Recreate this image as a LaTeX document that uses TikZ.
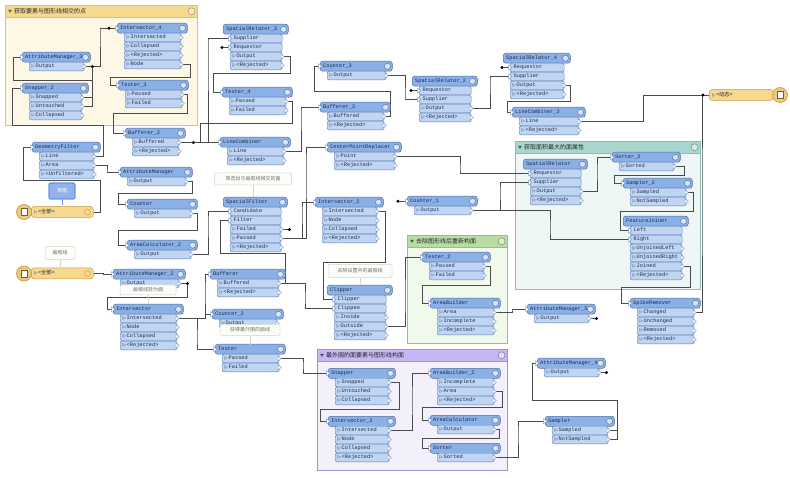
\documentclass[tikz,border=0pt]{standalone}
\usepackage{fontspec}
\setmainfont{Liberation Mono}
\newfontfamily\cjk{Noto Sans CJK SC}
\newfontfamily\djv{DejaVu Sans}
\usetikzlibrary{calc}
\pgfdeclarelayer{bg}
\pgfdeclarelayer{lk}
\pgfsetlayers{bg,lk,main}
\definecolor{cHdr}{HTML}{8BB0E5}
\definecolor{cHdrD}{HTML}{4F6FA8}
\definecolor{cPrt}{HTML}{C0D5F2}
\definecolor{cPrtD}{HTML}{5F7FB8}
\definecolor{cTxt}{HTML}{1A2A4A}
\definecolor{cLnk}{HTML}{4B4B4B}
\definecolor{cIcon}{HTML}{D8E5F7}
\definecolor{cNotD}{HTML}{D5D5CB}
\definecolor{cNotF}{HTML}{FCFCF8}
\definecolor{cNotT}{HTML}{707070}
\definecolor{cRdrD}{HTML}{C49A45}
\definecolor{cRdrF}{HTML}{F8D88E}
\definecolor{cIcr}{HTML}{EDC878}
\definecolor{oh}{HTML}{F5D98F}
\definecolor{ob}{HTML}{FDF7E6}
\definecolor{od}{HTML}{E3BF72}
\definecolor{th}{HTML}{A9D6CE}
\definecolor{tb}{HTML}{EEF7F5}
\definecolor{td}{HTML}{86BDB4}
\definecolor{gh}{HTML}{B9DCA3}
\definecolor{gb}{HTML}{F1F8EC}
\definecolor{gd}{HTML}{95C37C}
\definecolor{ph}{HTML}{C6B6F3}
\definecolor{pb}{HTML}{F3F0FC}
\definecolor{pd}{HTML}{A08FDD}
\definecolor{cBlueD}{HTML}{6D94E0}
\definecolor{cBlueF}{HTML}{93B2EC}
\tikzset{
  hdr/.style={draw=cHdrD, fill=cHdr, rounded corners=2.5pt, minimum height=10pt, inner sep=0pt, line width=0.5pt},
  prt/.style={draw=cPrtD, fill=cPrt, rounded corners=2pt, minimum height=8.6pt, inner sep=0pt, line width=0.45pt},
  ttl/.style={font=\fontsize{5.3}{6}\selectfont, text=cTxt, anchor=west, inner sep=0pt, text height=3.5pt, text depth=0.9pt},
  link/.style={draw=cLnk, line width=0.75pt},
  chev/.style={fill=white, draw=cPrtD, line width=0.3pt},
  cnote/.style={draw=cNotD, fill=cNotF, rounded corners=2pt, line width=0.5pt, inner sep=0pt, font=\cjk\fontsize{5}{6}\selectfont, text=cNotT},
  ctail/.style={draw=cNotD, line width=0.7pt},
  rdr/.style={draw=cRdrD, fill=cRdrF, rounded corners=3pt, minimum height=11pt, inner sep=0pt, line width=0.5pt},
}
\newcommand\tri{{\djv\fontsize{4.2}{5}\selectfont ▷}\hspace{0.8pt}}
\def\eastword{east}
\newcommand\xfbase[6]{%
  \node[hdr, minimum width={(#3-#2)*1pt}, anchor=north west] (#1) at (#2,#4) {};
  \node[ttl] (#1-t) at ([xshift=3pt]#1.west) {#5};
  \draw[draw=cHdrD, fill=cIcon, line width=0.4pt] ([xshift=-5pt]#1.east) circle (3pt);
  \foreach [count=\k] \pa/\pn in {#6} {
    \edef\pcur{\pa}%
    \ifx\pcur\eastword\def\ppre{\tri}\else\def\ppre{\hspace{1pt}}\fi
    \node[prt, minimum width={(#3-#2-13)*1pt}, anchor=north west] (#1-\k) at ({#2+7},{#4+10+(\k-1)*9}) {};
    \node[ttl] (#1-\k-t) at ([xshift=2.5pt]#1-\k.west) {\ppre\pn};
    \draw[chev] ([xshift=-1.5pt,yshift=2.4pt]#1-\k.\pa) -- ++(3.4pt,-2.4pt) -- ++(-3.4pt,-2.4pt) -- cycle;
  }%
}
\newcommand\xf[6]{\xfbase{#1}{#2}{#3}{#4}{#5}{#6}%
  \draw[chev] ([xshift=-1.5pt,yshift=2.6pt]#1.west) -- ++(3.6pt,-2.6pt) -- ++(-3.6pt,-2.6pt) -- cycle;}
\newcommand\xfn[6]{\xfbase{#1}{#2}{#3}{#4}{#5}{#6}}
\newcommand\bmark[7]{%
  \node[draw=#6d, fill=#6b, line width=0.6pt, inner sep=0pt, minimum width={(#4-#2)*1pt}, minimum height={(#5-#3)*1pt}, anchor=north west] (#1) at (#2,#3) {};
  \node[draw=#6d, fill=#6h, line width=0.6pt, inner sep=0pt, minimum width={(#4-#2)*1pt}, minimum height=12pt, anchor=north west] (#1-h) at (#2,#3) {};
  \fill[#6d!50!black] ([xshift=3pt,yshift=1.5pt]#1-h.west) -- ++(4pt,0pt) -- ++(-2pt,-3pt) -- cycle;
  \node[anchor=west, inner sep=0pt, font=\cjk\fontsize{6}{7}\selectfont, text=black!85] (#1-t) at ([xshift=9pt]#1-h.west) {#7};
  \draw[#6d!70!black, line width=0.4pt, fill=#6h!50!white] ([xshift=-6pt]#1-h.east) circle (3.5pt);
}
\newcommand\hid[3]{\draw[link] (#1) -- ++(#2,0) coordinate (#3); \fill[black] (#3) circle (1.7pt);}
\begin{document}
\begin{tikzpicture}[x=1pt,y=-1pt]
\useasboundingbox (0,0) rectangle (790,478);
\begin{pgfonlayer}{bg}
\fill[white] (0,0) rectangle (790,478);
\bmark{bkA}{5}{5}{197}{125}{o}{获取要素与图形线相交的点}
\bmark{bkB}{515}{141}{700}{289}{t}{获取面积最大的面属性}
\bmark{bkC}{407}{235}{507}{343}{g}{去除图形线后重新构面}
\bmark{bkD}{317}{349}{507}{470}{p}{最外围的面要素与图形线构面}
\end{pgfonlayer}

% transformers
\xf{int4}{117}{187}{23}{Intersector\_4}{east/Intersected,east/Collapsed,east/<Rejected>,east/Node}
\xf{amc}{22}{90}{52}{AttributeManager\_3}{east/Output}
\xf{snapb}{22}{88}{83}{Snapper\_2}{east/Snapped,east/Untouched,east/Collapsed}
\xf{testc}{118}{188}{80}{Tester\_3}{east/Passed,east/Failed}
\xf{bufb}{125}{185}{128}{Bufferer\_2}{east/Buffered,east/<Rejected>}
\xf{gf}{32}{100}{142}{GeometryFilter}{east/Line,east/Area,east/<Unfiltered>}
\xf{am}{120}{192}{167}{AttributeManager}{east/Output}
\xf{cnt}{127}{197}{199}{Counter}{east/Output}
\xf{acb}{127}{197}{240}{AreaCalculator\_2}{east/Output}
\xf{amb}{113}{185}{269}{AttributeManager\_2}{east/Output}
\xf{int}{113}{183}{304}{Intersector}{east/Intersected,east/Node,east/Collapsed,east/<Rejected>}
\xfn{src}{223}{288}{24}{SpatialRelator\_3}{west/Supplier,west/Requestor,east/Output,east/<Rejected>}
\xf{testd}{222}{292}{87}{Tester\_4}{east/Passed,east/Failed}
\xf{lc}{220}{290}{137}{LineCombiner}{east/Line,east/<Rejected>}
\xf{cntc}{320}{392}{61}{Counter\_3}{east/Output}
\xf{bufc}{320}{390}{102}{Bufferer\_3}{east/Buffered,east/<Rejected>}
\xf{cpr}{327}{401}{142}{CenterPointReplacer}{east/Point,east/<Rejected>}
\xfn{srb}{412}{477}{76}{SpatialRelator\_2}{west/Requestor,west/Supplier,east/Output,east/<Rejected>}
\xfn{srd}{503}{570}{53}{SpatialRelator\_4}{west/Requestor,west/Supplier,east/Output,east/<Rejected>}
\xf{lcb}{512}{585}{107}{LineCombiner\_2}{east/Line,east/<Rejected>}
\xfn{sr}{523}{587}{159}{SpatialRelator}{west/Requestor,west/Supplier,east/Output,east/<Rejected>}
\xf{sortb}{612}{680}{152}{Sorter\_2}{east/Sorted}
\xf{sampb}{623}{692}{178}{Sampler\_2}{east/Sampled,east/NotSampled}
\xfn{fj}{623}{688}{216}{FeatureJoiner}{west/Left,west/Right,east/UnjoinedLeft,east/UnjoinedRight,east/Joined,east/<Rejected>}
\xf{spike}{630}{700}{298}{SpikeRemover}{east/Changed,east/Unchanged,east/Removed,east/<Rejected>}
\xfn{sf}{223}{287}{197}{SpatialFilter}{west/Candidate,west/Filter,east/Failed,east/Passed,east/<Rejected>}
\xf{intb}{315}{383}{197}{Intersector\_2}{east/Intersected,east/Node,east/Collapsed,east/<Rejected>}
\xf{buf}{210}{285}{269}{Bufferer}{east/Buffered,east/<Rejected>}
\xfn{clip}{327}{392}{285}{Clipper}{west/Clipper,west/Clippee,east/Inside,east/Outside,east/<Rejected>}
\xf{cntb}{212}{283}{309}{Counter\_2}{east/Output}
\xf{test}{215}{285}{344}{Tester}{east/Passed,east/Failed}
\xf{cnta}{407}{477}{196}{Counter\_1}{east/Output}
\xf{testb}{422}{490}{252}{Tester\_2}{east/Passed,east/Failed}
\xf{ab}{430}{500}{298}{AreaBuilder}{east/Area,east/Incomplete,east/<Rejected>}
\xf{ame}{527}{595}{304}{AttributeManager\_5}{east/Output}
\xf{amd}{537}{605}{358}{AttributeManager\_4}{east/Output}
\xf{snap}{328}{395}{368}{Snapper}{east/Snapped,east/Untouched,east/Collapsed}
\xf{intc}{328}{395}{416}{Intersector\_3}{east/Intersected,east/Node,east/Collapsed,east/<Rejected>}
\xf{abb}{430}{500}{368}{AreaBuilder\_2}{east/Incomplete,east/Area,east/<Rejected>}
\xf{aca}{430}{500}{415}{AreaCalculator}{east/Output}
\xf{sort}{430}{500}{443}{Sorter}{east/Sorted}
\xf{samp}{545}{614}{416}{Sampler}{east/Sampled,east/NotSampled}

% readers / writer
\node[rdr, minimum width=62pt, anchor=west] (rda) at (31,212) {};
\node[ttl] (rda-t) at ([xshift=3pt]rda.west) {\tri{\cjk <全部>}};
\draw[cRdrD, line width=0.4pt] ([xshift=-6pt]rda.east) circle (3pt);
\node[circle, draw=cRdrD, fill=cIcr, minimum size=15pt, inner sep=0pt, line width=0.6pt] (rda-i) at (24,212) {};
\draw[cRdrD!60!black, fill=white, line width=0.4pt] (21,208.5) rectangle (27,215.5);
\node[rdr, minimum width=62pt, anchor=west] (rdb) at (31,273.5) {};
\node[ttl] (rdb-t) at ([xshift=3pt]rdb.west) {\tri{\cjk <全部>}};
\draw[cRdrD, line width=0.4pt] ([xshift=-6pt]rdb.east) circle (3pt);
\node[circle, draw=cRdrD, fill=cIcr, minimum size=15pt, inner sep=0pt, line width=0.6pt] (rdb-i) at (24,273.5) {};
\draw[cRdrD!60!black, fill=white, line width=0.4pt] (21,270) rectangle (27,277);
\node[rdr, minimum width=64pt, anchor=west] (wr) at (709,95) {};
\node[ttl] (wr-t) at ([xshift=3pt]wr.west) {\tri{\cjk <动态>}};
\node[circle, draw=cRdrD, fill=cIcr, minimum size=15pt, inner sep=0pt, line width=0.6pt] (wr-i) at (780,95) {};
\draw[cRdrD!60!black, fill=white, line width=0.4pt] (777,91.5) rectangle (783,98.5);

% links
\begin{pgfonlayer}{lk}
\draw[link] (snapb-1.east) -| (92,80) -- (13,80) |- (amc.west);
\draw[link] (snapb-2.east) -| ([xshift=8pt]amc-1.east);
\draw[link] (amc-1.east) -| (100,28) |- (int4.west);
\draw[link] (int4-4.east) -| (190,77) -- (110,77) |- (testc.west);
\draw[link] (testc-1.east) -| (187,113) -- (113,113) |- (bufb.west);
\draw[link] (bufb-1.east) -| (208,40) |- (src-1.west);
\draw[link] (bufb-1.east) -| (205,142) |- (lc.west);
\hid{src-2.west}{-8}{h1}
\draw[link] (src-3.east) -| (290,73) -- (213,73) |- (testd.west);
\draw[link] (testd-1.east) -| (292,123) -- (200,123) |- (lc.west);
\draw[link] (lc-1.east) -| (301,110) |- (bufc.west);
\draw[link] (bufc-1.east) -| (390,91) -- (314,91) |- (cntc.west);
\draw[link] (cntc-1.east) -| (405,99) |- (srb-2.west);
\hid{srb-1.west}{-8}{h2}
\draw[link] (srb-3.east) -| (490,80) |- (srd-2.west);
\hid{srd-1.west}{-8}{h3}
\draw[link] (srd-3.east) -| (570,101) -- (507,101) |- (lcb.west);
\draw[link] (lcb-1.east) -| (643,95) |- (wr.west);
\draw[link] (spike-1.east) -| (702,200) |- (wr.west);
\draw[link] (cpr-1.east) -| (460,170) |- (sr-1.west);
\draw[link] (cnta-1.east) -| (500,190) |- (sr-2.west);
\draw[link] (cnta-1.east) -| (550,230) |- (fj-2.west);
\hid{cnta.west}{-9}{h4}
\draw[link] (sr-3.east) -| (597,170) |- (sortb.west);
\draw[link] (sortb-1.east) -| (684,175) -- (614,175) |- (sampb.west);
\draw[link] (sampb-1.east) -| (693,211) -- (620,211) |- (fj-1.west);
\draw[link] (fj-5.east) -| (690,287) -- (621,287) |- (spike.west);
\draw[link] (rda.east) -| (100,180) -- (23,180) |- (gf.west);
\draw[link] (gf-1.east) -| (103,125) -- (12,125) |- (snapb.west);
\draw[link] (gf-2.east) -| (107,172) |- (am.west);
\draw[link] (am-1.east) -| (192,193) -- (118,193) |- (cnt.west);
\draw[link] (cnt-1.east) -| (197,230) -- (118,230) |- (acb.west);
\draw[link] (acb-1.east) -| (208,220) |- (sf-1.west);
\draw[link] (buf-1.east) -| (285,253) -- (220,253) |- (sf-2.west);
\draw[link] (sf-4.east) -| (302,210) |- (intb.west);
\draw[link] (sf-4.east) -| (306,160) |- (cpr.west);
\hid{sf-3.east}{8}{h5}
\draw[link] (intb-1.east) -| (385,262) -- (323,262) |- (clip-1.west);
\draw[link] (buf-1.east) -| (305,300) |- (clip-2.west);
\draw[link] (clip-4.east) -| (405,300) |- (testb.west);
\draw[link] (testb-1.east) -| (490,285) -- (422,285) |- (ab.west);
\draw[link] (ab-1.east) -| (512,310) |- (ame.west);
\hid{ame-1.east}{7}{h6}
\draw[link] (rdb.east) -| (103,274) |- (amb.west);
\draw[link] (amb-1.east) -| (187,297) -- (107,297) |- (int.west);
\draw[link] (int-1.east) -| (197,340) |- (test.west);
\draw[link] (int-1.east) -| (205,290) |- (buf.west);
\draw[link] (int-1.east) -| (205,314) |- (cntb.west);
\draw[link] (test-1.east) -| (303,365) |- (snap.west);
\draw[link] (snap-1.east) -| (399,409) -- (320,409) |- (intc.west);
\draw[link] (intc-1.east) -| (412,400) |- (abb.west);
\draw[link] (abb-2.east) -| (502,407) -- (422,407) |- (aca.west);
\draw[link] (aca-1.east) -| (499,438) -- (422,438) |- (sort.west);
\draw[link] (sort-1.east) -| (518,430) |- (samp.west);
\draw[link] (samp-2.east) -| (617,400) -- (532,400) |- (amd.west);
\draw[link] (samp-1.east) -| (617,430);
\hid{amd-1.east}{7}{h7}
\fill[black] ([xshift=8pt]amc-1.east) circle (1.7pt);
\fill[black] ([xshift=-8pt]int4.west) circle (1.7pt);
\fill[black] ([xshift=14pt]bufb-1.east) circle (1.7pt);
\fill[black] ([xshift=8pt]amb-1.east) circle (1.7pt);
\fill[black] ([xshift=-6pt]wr.west) circle (1.7pt);
\end{pgfonlayer}

% annotations
\node[draw=cBlueD, fill=cBlueF, line width=1.4pt, rounded corners=2pt, minimum width=26pt, minimum height=16pt, inner sep=0pt, font=\cjk\fontsize{5}{6}\selectfont, text=white] (co1) at (62,191) {草图};
\draw[cBlueD, line width=1pt] (co1.south) -- ++(0,5);
\node[cnote, minimum width=30pt, minimum height=13pt] (co2) at (60,253) {画框线};
\draw[ctail] (co2.south) -- ++(0,8);
\node[cnote, minimum width=77pt, minimum height=12pt] (co3) at (253,179) {筛选出与画框线相交的面};
\draw[ctail] (co3.south) -- ++(0,12);
\node[cnote, minimum width=64pt, minimum height=13pt] (co4) at (360,271) {去除设置中的画框线};
\draw[ctail] (co4.south) -- ++(0,7);
\node[cnote, minimum width=56pt, minimum height=10pt] (co5) at (148,290) {画框线转为面};
\draw[ctail] (co5.south) -- ++(0,9);
\node[cnote, minimum width=60pt, minimum height=11pt] (co6) at (250,330) {获得最外围的面线};
\draw[ctail] (co6.south) -- ++(0,9);
\end{tikzpicture}
\end{document}
